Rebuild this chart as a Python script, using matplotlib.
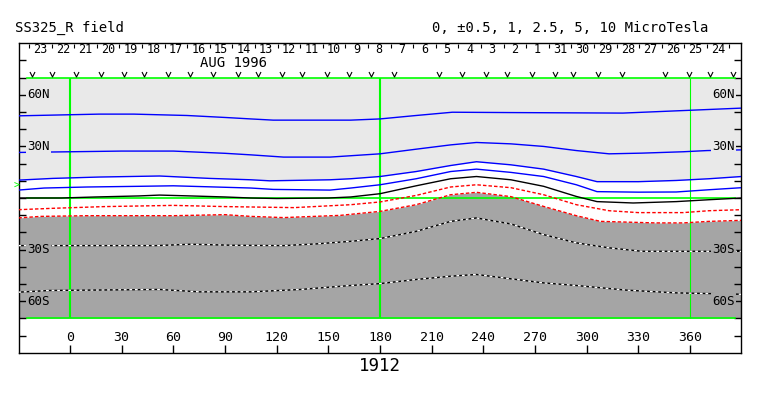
import numpy as np
import matplotlib
matplotlib.use("Agg")
import matplotlib.pyplot as plt
from matplotlib.path import Path

# ---- contour lines of the source-surface field, (lon, lat) ----
pos5_lon = [-30, 17, 37, 68, 91, 105, 118, 163, 180, 201, 222, 256, 321, 352, 390]
pos5_lat = [47.8, 48.8, 48.8, 48.0, 46.8, 46.0, 45.3, 45.3, 46.0, 48.0, 49.9, 49.7, 49.4, 50.7, 52.3]

pos25_lon = [-30, 30, 60, 90, 105, 124, 151, 180, 201, 221, 236, 256, 275, 294, 313, 332, 356, 370, 390]
pos25_lat = [26.5, 27.3, 27.3, 26.0, 25.1, 23.8, 23.8, 25.7, 28.4, 30.9, 32.3, 31.5, 30.0, 27.6, 25.7, 26.1, 26.9, 27.6, 28.0]

pos1_lon = [-30, -10, 17, 52, 81, 105, 116, 151, 163, 180, 201, 221, 236, 256, 275, 294, 306, 330, 352, 371, 390]
pos1_lat = [10.4, 11.4, 12.2, 12.8, 11.4, 10.6, 10.0, 10.6, 11.2, 12.5, 15.4, 18.9, 21.1, 19.3, 16.8, 12.5, 9.5, 9.5, 10.2, 11.2, 12.5]

pos05_lon = [-30, -15, 10, 40, 60, 81, 105, 118, 151, 163, 180, 201, 221, 236, 256, 275, 294, 306, 330, 352, 371, 390]
pos05_lat = [4.6, 5.8, 6.4, 6.8, 7.1, 6.5, 5.8, 5.0, 4.6, 5.8, 7.7, 11.2, 15.4, 16.8, 14.9, 12.5, 7.7, 3.7, 3.4, 3.5, 4.8, 6.0]

zero_lon = [-30, -5, 15, 40, 52, 70, 90, 105, 120, 150, 163, 180, 201, 221, 236, 256, 275, 294, 306, 327, 352, 371, 390]
zero_lat = [0, 0, 0.6, 1.2, 1.7, 1.2, 0.6, 0, -0.3, 0.0, 0.6, 2.5, 7.1, 11.2, 12.5, 10.6, 6.8, 0.9, -2.1, -2.9, -2.1, -1.0, 0]

neg05_lon = [-30, -10, 20, 60, 90, 110, 130, 163, 180, 201, 221, 236, 256, 275, 294, 313, 330, 356, 371, 390]
neg05_lat = [-6.8, -6.0, -5.0, -4.3, -5.0, -5.3, -5.6, -3.9, -2.3, 1.5, 6.4, 7.7, 6.0, 1.9, -3.9, -7.4, -8.5, -8.5, -7.4, -6.8]

neg1_lon = [-30, -17, 10, 60, 90, 105, 124, 157, 180, 201, 221, 236, 256, 275, 294, 308, 340, 356, 371, 390]
neg1_lat = [-11.6, -10.7, -10.3, -10.3, -9.7, -10.7, -11.4, -10.1, -7.8, -3.9, 1.9, 3.3, 0.8, -4.9, -10.3, -13.6, -14.5, -14.5, -13.6, -13.0]

neg25_lon = [-30, 50, 70, 95, 124, 143, 163, 180, 201, 221, 236, 256, 275, 294, 313, 332, 390]
neg25_lat = [-27.7, -27.7, -26.9, -27.5, -27.7, -26.7, -25.2, -23.6, -19.4, -13.6, -11.6, -15.1, -21.3, -26.1, -29.0, -31.0, -31.0]

neg5_lon = [-30, -12, 31, 52, 75, 105, 134, 163, 180, 201, 221, 236, 256, 275, 294, 323, 352, 390]
neg5_lat = [-54.8, -53.8, -53.4, -53.2, -54.6, -54.6, -53.2, -50.9, -49.8, -47.4, -45.5, -44.5, -47.0, -49.4, -50.9, -53.6, -55.2, -56.0]

# ---- top strip: day-of-month labels and observation markers ----
day_labels = ["23", "22", "21", "20", "19", "18", "17", "16", "15", "14", "13", "12",
              "11", "10", "9", "8", "7", "6", "5", "4", "3", "2", "1",
              "31", "30", "29", "28", "27", "26", "25", "24"]
obs_lon = [-22.1, -10.5, 3.5, 18.0, 31.4, 43.0, 56.9, 69.7, 83.0, 97.5, 109.2, 123.1,
           134.7, 149.2, 162.0, 174.8, 188.1, 214.3, 227.6, 241.5, 253.7, 268.2,
           281.6, 292.0, 306.6, 320.5, 345.5, 359.4, 371.6, 385.0]
lon_ticks = list(range(0, 361, 30))
lat_labels = {60: "60N", 30: "30N", -30: "30S", -60: "60S"}

MONO = "DejaVu Sans Mono"
LIGHT = "#e9e9e9"
DARK = "#a5a5a5"
GREEN = "#00ff00"
DAY0, DAYSTEP = -23.8, 13.12   # lon of first day tick, degrees per day
VMARK = Path([(-1, 1), (0, -1), (1, 1)], [Path.MOVETO, Path.LINETO, Path.LINETO])

fig = plt.figure(figsize=(7.63, 3.96), dpi=100)
ax = fig.add_axes([19 / 763, 43.3 / 396, 722 / 763, 309.4 / 396])
ax.set_xlim(-29.6, 389.6)
ax.set_ylim(-90, 90)

# polarity shading
ax.fill_between(pos1_lon, pos1_lat, 70, color=LIGHT, lw=0, zorder=1)
ax.fill_between(neg1_lon, neg1_lat, -70, color=DARK, lw=0, zorder=1)

# grid lines (green)
for la in (70, 0, -70):
    ax.plot([-24.8, 386], [la, la], color=GREEN, lw=1.2, zorder=2)
ax.vlines([0, 180], -70, 70, color=GREEN, lw=1.5, zorder=2)
ax.vlines([360], -70, 70, color=GREEN, lw=0.8, zorder=2)

# contours
for lo, la in [(pos5_lon, pos5_lat), (pos25_lon, pos25_lat),
               (pos1_lon, pos1_lat), (pos05_lon, pos05_lat)]:
    ax.plot(lo, la, color="#0000ff", lw=1.0, zorder=3)
ax.plot(zero_lon, zero_lat, color="black", lw=1.0, zorder=3)
for lo, la in [(neg05_lon, neg05_lat), (neg1_lon, neg1_lat)]:
    ax.plot(lo, la, color="#ff0000", lw=1.0, ls=(0, (2.5, 1.5)), zorder=3)
for lo, la in [(neg25_lon, neg25_lat), (neg5_lon, neg5_lat)]:
    ax.plot(lo, la, color="black", lw=1.0, zorder=3)
    ax.plot(lo, la, color="white", lw=1.0, ls=(0, (2, 2)), zorder=3)

# latitude labels inside the frame
for la, s in lat_labels.items():
    bg = LIGHT if la > 0 else DARK
    kw = dict(fontsize=9, family=MONO, va="center", zorder=4,
              bbox=dict(facecolor=bg, edgecolor="none", pad=1))
    ax.text(-25, la, s, ha="left", **kw)
    ax.text(386, la, s, ha="right", **kw)

# longitude labels
for lo in lon_ticks:
    ax.text(lo, -81, str(lo), ha="center", va="center", fontsize=9.5, family=MONO)

# day strip
n = len(day_labels)
ax.vlines([DAY0 + k * DAYSTEP for k in range(n + 1)], 87.2, 89.5, color="black", lw=0.8)
for k, s in enumerate(day_labels):
    ax.text(DAY0 + (k + 0.5) * DAYSTEP, 86.3, s, ha="center", va="center",
            fontsize=8.5, family=MONO)
ax.text(95, 78.8, "AUG 1996", ha="center", va="center", fontsize=10, family=MONO)
ax.plot(obs_lon, [72.3] * len(obs_lon), ls="none", marker=VMARK, ms=3.6,
        mec="black", mfc="none", mew=0.8, zorder=4)

# Earth latitude marker
ax.text(-31, 7, ">", color=GREEN, fontsize=7, ha="center", va="center",
        family=MONO, clip_on=False)

ax.set_xticks(lon_ticks)
ax.set_yticks(range(-80, 81, 10))
ax.tick_params(axis="x", direction="in", length=6, width=1, bottom=True, top=False,
               labelbottom=False)
ax.tick_params(axis="y", direction="in", length=5, width=1, left=True, right=True,
               labelleft=False)
for sp in ax.spines.values():
    sp.set_linewidth(1.0)

fig.text(15 / 763, 1 - 27.5 / 396, "SS325_R field", fontsize=10, family=MONO,
         ha="left", va="center")
fig.text(431.7 / 763, 1 - 27.5 / 396, "0, \u00b10.5, 1, 2.5, 5, 10 MicroTesla",
         fontsize=10, family=MONO, ha="left", va="center")
fig.text(380 / 763, 1 - 366 / 396, "1912", fontsize=12.5, family=MONO,
         ha="center", va="center")

fig.savefig("out.png", dpi=100)
